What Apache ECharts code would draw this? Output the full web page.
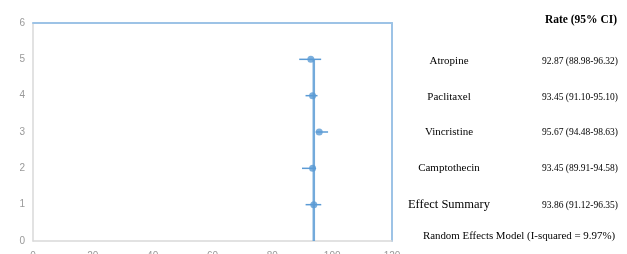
<!DOCTYPE html>
<html><head><meta charset="utf-8">
<script src="https://cdn.jsdelivr.net/npm/echarts@6/dist/echarts.min.js"></script>
<style>html,body{margin:0;padding:0;background:#fff}#c{width:627px;height:254px}</style>
</head><body><div id="c"></div>
<script>
const names = ['Atropine','Paclitaxel','Vincristine','Camptothecin','Effect Summary'];
const yPos = [5,4,3,2,1];
const rates = [92.87,93.45,95.67,93.45,93.86];
const lows = [88.98,91.10,94.48,89.91,91.12];
const highs = [96.32,95.10,98.63,94.58,96.35];
const rateLabels = ['92.87 (88.98-96.32)','93.45 (91.10-95.10)','95.67 (94.48-98.63)','93.45 (89.91-94.58)','93.86 (91.12-96.35)'];
const header = 'Rate (95% CI)';
const footnote = 'Random Effects Model (I-squared = 9.97%)';
const summaryRate = 93.86;
const xTicks = [0,20,40,60,80,100,120];
const yTicks = [0,1,2,3,4,5,6];

const blue = '#5b9bd5';
const chart = echarts.init(document.getElementById('c'));
const pts = names.map((n,i)=>[rates[i], yPos[i]]);
const bars = names.map((n,i)=>[lows[i], highs[i], yPos[i]]);

const gridL = 33, gridR = 627-392, gridT = 23, gridB = 254-241;
const rowY = [61, 97, 132, 168, 205];
const graphics = [];
graphics.push({type:'text', x: 581, y: 20, style:{text: header, font:'bold 11.5px "Liberation Serif"', fill:'#000', align:'center', verticalAlign:'middle'}});
names.forEach((n,i)=>{
  const big = i===4;
  graphics.push({type:'text', x: 449, y: rowY[i], style:{text:n, font:(big?'12.5px':'11px')+' "Liberation Serif"', fill:'#000', align:'center', verticalAlign:'middle'}});
  graphics.push({type:'text', x: 580, y: rowY[i], style:{text:rateLabels[i], font:'9.5px "Liberation Serif"', fill:'#000', align:'center', verticalAlign:'middle'}});
});
graphics.push({type:'text', x: 519, y: 236, style:{text:footnote, font:'10.9px "Liberation Serif"', fill:'#000', align:'center', verticalAlign:'middle'}});

chart.setOption({
  animation:false,
  grid:{left:gridL, right:gridR, top:gridT, bottom:gridB, containLabel:false, outerBoundsMode:'none'},
  xAxis:[
    {type:'value', min:0, max:120, interval:20, position:'bottom',
     axisLine:{show:true, lineStyle:{color:'#d9d9d9', width:1.5}}, axisTick:{show:false},
     splitLine:{show:false}, axisLabel:{color:'#999', fontSize:10, margin:10, fontFamily:'Liberation Sans'}},
    {type:'value', min:0, max:120, position:'top',
     axisLine:{show:true, onZero:false, lineStyle:{color:'#9dc3e6', width:2}}, axisTick:{show:false},
     splitLine:{show:false}, axisLabel:{show:false}}
  ],
  yAxis:[
    {type:'value', min:0, max:6, interval:1, position:'left',
     axisLine:{show:true, lineStyle:{color:'#d9d9d9', width:1.5}}, axisTick:{show:false},
     splitLine:{show:false}, axisLabel:{color:'#999', fontSize:10, margin:8, fontFamily:'Liberation Sans'}},
    {type:'value', min:0, max:6, position:'right',
     axisLine:{show:true, onZero:false, lineStyle:{color:'#9dc3e6', width:2}}, axisTick:{show:false},
     splitLine:{show:false}, axisLabel:{show:false}}
  ],
  series:[
    {type:'line', data:[[summaryRate,0],[summaryRate,5]], showSymbol:false, symbol:'none',
     lineStyle:{color:blue, width:2.5, opacity:0.85}, z:2},
    {type:'custom', data:bars, renderItem:function(params, api){
      const a = api.coord([api.value(0), api.value(2)]);
      const b = api.coord([api.value(1), api.value(2)]);
      return {type:'line', shape:{x1:a[0], y1:a[1], x2:b[0], y2:b[1]}, style:{stroke:blue, lineWidth:1.5}};
    }, encode:{x:[0,1], y:2}, z:3},
    {type:'scatter', data:pts, symbol:'circle', symbolSize:7, itemStyle:{color:blue}, z:4}
  ],
  graphic: graphics
});
</script></body></html>
